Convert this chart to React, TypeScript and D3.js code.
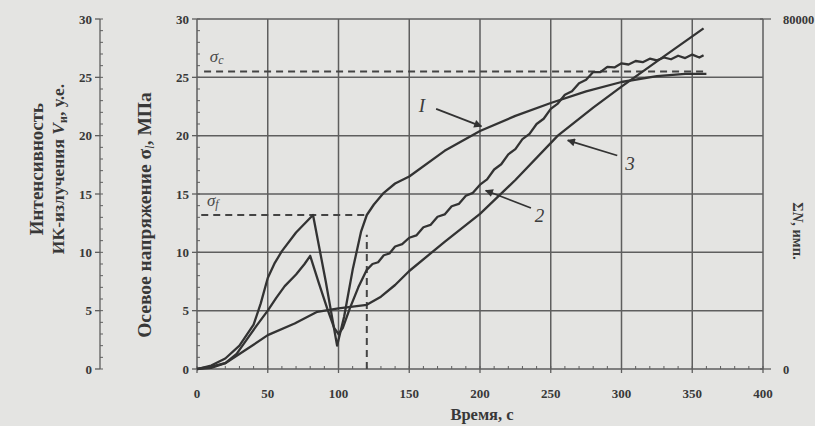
import React, { useEffect, useRef } from 'react';
import * as d3 from 'd3';

// time axis, s
const timeTicks = [0, 50, 100, 150, 200, 250, 300, 350, 400];
const stressTicks = [0, 5, 10, 15, 20, 25, 30];
const countTicks = [0, 80000];

// curve 1 - axial stress
const time1 = [0, 10, 20, 30, 40, 45, 50, 55, 60, 70, 82, 91, 99, 104, 110, 116, 120, 125, 132, 140, 150, 175, 200, 225, 250, 275, 300, 325, 345, 360];
const value1 = [0, 0.3, 0.9, 2.0, 3.8, 5.6, 7.8, 9.1, 10.1, 11.7, 13.2, 7.5, 2.0, 4.5, 8.5, 11.8, 13.2, 14.1, 15.1, 15.9, 16.5, 18.7, 20.4, 21.7, 22.8, 23.8, 24.6, 25.1, 25.3, 25.3];

// curve 2 - IR intensity (noisy)
const time2 = [0, 10, 20, 28, 35, 42, 50, 56, 62, 70, 76, 80, 86, 92, 97, 100, 103, 108, 114, 120, 124, 128, 132, 136, 140, 145, 150, 155, 160, 165, 170, 175, 180, 185, 190, 195, 200, 205, 210, 215, 220, 225, 230, 235, 240, 245, 250, 255, 260, 265, 270, 275, 280, 285, 290, 295, 300, 305, 310, 315, 320, 325, 330, 335, 340, 345, 350, 355, 358];
const value2 = [0, 0.2, 0.5, 1.3, 2.5, 3.7, 5.0, 6.1, 7.1, 8.1, 9.0, 9.7, 7.4, 5.2, 3.5, 3.0, 3.5, 5.2, 7.0, 8.5, 9.0, 9.15, 9.75, 9.9, 10.5, 10.7, 11.25, 11.45, 12.15, 12.35, 13.05, 13.25, 13.95, 14.15, 14.85, 15.1, 15.8, 16.25, 17.1, 17.55, 18.4, 18.85, 19.7, 20.15, 21.0, 21.45, 22.3, 22.75, 23.5, 23.8, 24.5, 24.8, 25.45, 25.45, 25.9, 25.85, 26.2, 26.1, 26.4, 26.3, 26.6, 26.45, 26.7, 26.55, 26.85, 26.65, 26.95, 26.7, 26.9];

// curve 3 - acoustic emission sum
const time3 = [0, 10, 20, 34, 50, 69, 85, 100, 120, 130, 140, 150, 175, 200, 225, 255, 280, 300, 330, 358];
const value3 = [0, 0.1, 0.5, 1.6, 2.9, 3.9, 4.9, 5.2, 5.5, 6.2, 7.2, 8.4, 10.9, 13.3, 16.2, 20.0, 22.4, 24.2, 26.8, 29.2];

// reference levels
const sigmaF = 13.2;
const sigmaC = 25.5;
const sigmaFTime = 120;
const sigmaCEnd = 358;

// curve labels: label position, arrow start, arrow end (data units)
const curveLabels = ['I', '2', '3'];
const labelPos = [[159, 22.6], [242, 13.2], [306, 17.7]];
const arrowFrom = [[169, 22.3], [236, 13.8], [297, 18.3]];
const arrowTo = [[201, 20.8], [204, 15.3], [262, 19.6]];

const W = 815, H = 426;
const left = 197, right = 763, top = 19, bottom = 369;
const irAxisX = 100;

export default function App() {
  const ref = useRef<SVGSVGElement | null>(null);

  useEffect(() => {
    document.body.style.margin = '0';
    const svg = d3.select(ref.current);
    svg.selectAll('*').remove();

    const x = d3.scaleLinear().domain([0, 400]).range([left, right]);
    const y = d3.scaleLinear().domain([0, 30]).range([bottom, top]);
    const yN = d3.scaleLinear().domain([0, 80000]).range([bottom, top]);

    const ink = '#333';
    const gridC = '#5e5e5e';
    const txt = '#383838';
    const font = '"Liberation Serif", "DejaVu Serif", serif';

    svg.append('rect').attr('width', W).attr('height', H).attr('fill', '#e4e4e2');

    svg.append('defs').append('marker')
      .attr('id', 'arr').attr('viewBox', '0 0 10 10').attr('refX', 9).attr('refY', 5)
      .attr('markerWidth', 10).attr('markerHeight', 8).attr('orient', 'auto')
      .attr('markerUnits', 'userSpaceOnUse')
      .append('path').attr('d', 'M0,0 L10,5 L0,10 z').attr('fill', ink);

    const g = svg.append('g');

    // grid
    g.selectAll('.vg').data(timeTicks.slice(1)).enter().append('line')
      .attr('x1', d => x(d)).attr('x2', d => x(d)).attr('y1', top).attr('y2', bottom)
      .attr('stroke', gridC).attr('stroke-width', 1.5);
    g.selectAll('.hg').data(stressTicks.slice(1)).enter().append('line')
      .attr('x1', left).attr('x2', right).attr('y1', d => y(d)).attr('y2', d => y(d))
      .attr('stroke', gridC).attr('stroke-width', 1.5);
    g.append('line').attr('x1', left).attr('x2', left).attr('y1', top).attr('y2', bottom)
      .attr('stroke', gridC).attr('stroke-width', 1.5);
    g.append('line').attr('x1', left).attr('x2', right).attr('y1', bottom).attr('y2', bottom)
      .attr('stroke', gridC).attr('stroke-width', 1.5);

    // main stress axis ticks
    const minor = d3.range(0, 31, 1);
    g.selectAll('.ym').data(minor).enter().append('line')
      .attr('x1', left).attr('x2', left + 3).attr('y1', d => y(d)).attr('y2', d => y(d))
      .attr('stroke', gridC).attr('stroke-width', 1);
    g.selectAll('.yM').data(stressTicks).enter().append('line')
      .attr('x1', left - 5).attr('x2', left).attr('y1', d => y(d)).attr('y2', d => y(d))
      .attr('stroke', gridC).attr('stroke-width', 1.3);
    g.selectAll('.yl').data(stressTicks).enter().append('text')
      .attr('x', left - 8).attr('y', d => y(d) + 4.5).attr('text-anchor', 'end')
      .attr('font-family', font).attr('font-weight', 'bold').attr('font-size', 13).attr('fill', txt)
      .text(d => d);

    // IR intensity axis
    g.append('line').attr('x1', irAxisX).attr('x2', irAxisX).attr('y1', top).attr('y2', bottom)
      .attr('stroke', gridC).attr('stroke-width', 1.3);
    g.selectAll('.im').data(minor).enter().append('line')
      .attr('x1', irAxisX).attr('x2', irAxisX + 3).attr('y1', d => y(d)).attr('y2', d => y(d))
      .attr('stroke', gridC).attr('stroke-width', 1);
    g.selectAll('.iM').data(stressTicks).enter().append('line')
      .attr('x1', irAxisX - 5).attr('x2', irAxisX).attr('y1', d => y(d)).attr('y2', d => y(d))
      .attr('stroke', gridC).attr('stroke-width', 1.3);
    g.selectAll('.il').data(stressTicks).enter().append('text')
      .attr('x', irAxisX - 8).attr('y', d => y(d) + 4.5).attr('text-anchor', 'end')
      .attr('font-family', font).attr('font-weight', 'bold').attr('font-size', 13).attr('fill', txt)
      .text(d => d);

    // time axis
    g.selectAll('.xm').data(d3.range(0, 401, 10)).enter().append('line')
      .attr('x1', d => x(d)).attr('x2', d => x(d)).attr('y1', bottom - 3).attr('y2', bottom)
      .attr('stroke', gridC).attr('stroke-width', 1);
    g.selectAll('.xM').data(timeTicks).enter().append('line')
      .attr('x1', d => x(d)).attr('x2', d => x(d)).attr('y1', bottom).attr('y2', bottom + 4)
      .attr('stroke', gridC).attr('stroke-width', 1.3);
    g.selectAll('.xl').data(timeTicks).enter().append('text')
      .attr('x', d => x(d)).attr('y', bottom + 29).attr('text-anchor', 'middle')
      .attr('font-family', font).attr('font-weight', 'bold').attr('font-size', 13).attr('fill', txt)
      .text(d => d);

    // right count axis
    g.selectAll('.nM').data(countTicks).enter().append('line')
      .attr('x1', right - 3).attr('x2', right + 8).attr('y1', d => yN(d)).attr('y2', d => yN(d))
      .attr('stroke', gridC).attr('stroke-width', 1.3);
    g.selectAll('.nl').data(countTicks).enter().append('text')
      .attr('x', right + 20).attr('y', d => yN(d) + 4.5)
      .attr('font-family', font).attr('font-weight', 'bold').attr('font-size', 12.5).attr('fill', txt)
      .text(d => d);

    // dashed reference lines
    const dash = '7,5';
    const dashC = '#444';
    g.append('line').attr('x1', x(3)).attr('x2', x(sigmaFTime)).attr('y1', y(sigmaF)).attr('y2', y(sigmaF))
      .attr('stroke', dashC).attr('stroke-width', 2).attr('stroke-dasharray', dash);
    g.append('line').attr('x1', x(sigmaFTime)).attr('x2', x(sigmaFTime)).attr('y1', y(0)).attr('y2', y(11.5))
      .attr('stroke', dashC).attr('stroke-width', 2).attr('stroke-dasharray', dash);
    g.append('line').attr('x1', x(5)).attr('x2', x(sigmaCEnd)).attr('y1', y(sigmaC)).attr('y2', y(sigmaC))
      .attr('stroke', dashC).attr('stroke-width', 2).attr('stroke-dasharray', dash);

    // curves
    const line = d3.line<[number, number]>().x(d => x(d[0])).y(d => y(d[1]));
    const curves: [number[], number[]][] = [[time1, value1], [time2, value2], [time3, value3]];
    curves.forEach(([t, v]) => {
      const pts = t.map((tt, i) => [tt, v[i]] as [number, number]);
      g.append('path').attr('d', line(pts) as string)
        .attr('fill', 'none').attr('stroke', ink).attr('stroke-width', 2.3)
        .attr('stroke-linejoin', 'round');
    });

    // sigma labels
    const sc = g.append('text').attr('x', x(9)).attr('y', y(26.3))
      .attr('font-family', font).attr('font-style', 'italic').attr('font-size', 17).attr('fill', '#4a4a4a');
    sc.append('tspan').text('σ');
    sc.append('tspan').attr('font-size', 12).attr('dy', 2).text('c');
    const sf = g.append('text').attr('x', x(7)).attr('y', y(14))
      .attr('font-family', font).attr('font-style', 'italic').attr('font-size', 17).attr('fill', '#4a4a4a');
    sf.append('tspan').text('σ');
    sf.append('tspan').attr('font-size', 12).attr('dy', 2).text('f');

    // curve labels with arrows
    curveLabels.forEach((lab, i) => {
      g.append('line')
        .attr('x1', x(arrowFrom[i][0])).attr('y1', y(arrowFrom[i][1]))
        .attr('x2', x(arrowTo[i][0])).attr('y2', y(arrowTo[i][1]))
        .attr('stroke', ink).attr('stroke-width', 1.8).attr('marker-end', 'url(#arr)');
      g.append('text').attr('x', x(labelPos[i][0])).attr('y', y(labelPos[i][1]) + 7)
        .attr('text-anchor', 'middle').attr('font-family', font).attr('font-style', 'italic')
        .attr('font-size', 19).attr('fill', '#3c3c3c').text(lab);
    });

    // axis titles
    const title = (tx: number, ty: number, rot: number, size: number) =>
      g.append('text').attr('transform', `translate(${tx},${ty}) rotate(${rot})`)
        .attr('text-anchor', 'middle').attr('font-family', font).attr('font-weight', 'bold')
        .attr('font-size', size).attr('fill', txt);

    title(43, 169, -90, 19).text('Интенсивность');
    const ir = title(64, 169, -90, 17.5);
    ir.append('tspan').text('ИК-излучения ');
    ir.append('tspan').attr('font-style', 'italic').text('V');
    ir.append('tspan').attr('font-size', 12).attr('dy', 3).text('и');
    ir.append('tspan').attr('dy', -3).text(', у.е.');

    const st = title(151, 215, -90, 19.5);
    st.append('tspan').text('Осевое напряжение σ');
    st.append('tspan').attr('font-style', 'italic').attr('font-weight', 'normal').attr('font-size', 13).attr('dy', 3).text('l');
    st.append('tspan').attr('dy', -3).text(', МПа');

    const nt = title(793, 231, 90, 14.5);
    nt.append('tspan').text('Σ');
    nt.append('tspan').attr('font-style', 'italic').text('N');
    nt.append('tspan').text(', имп.');

    title(482, 420, 0, 16.5).text('Время, с');
  }, []);

  return <svg ref={ref} width={W} height={H} style={{ display: 'block' }} />;
}
